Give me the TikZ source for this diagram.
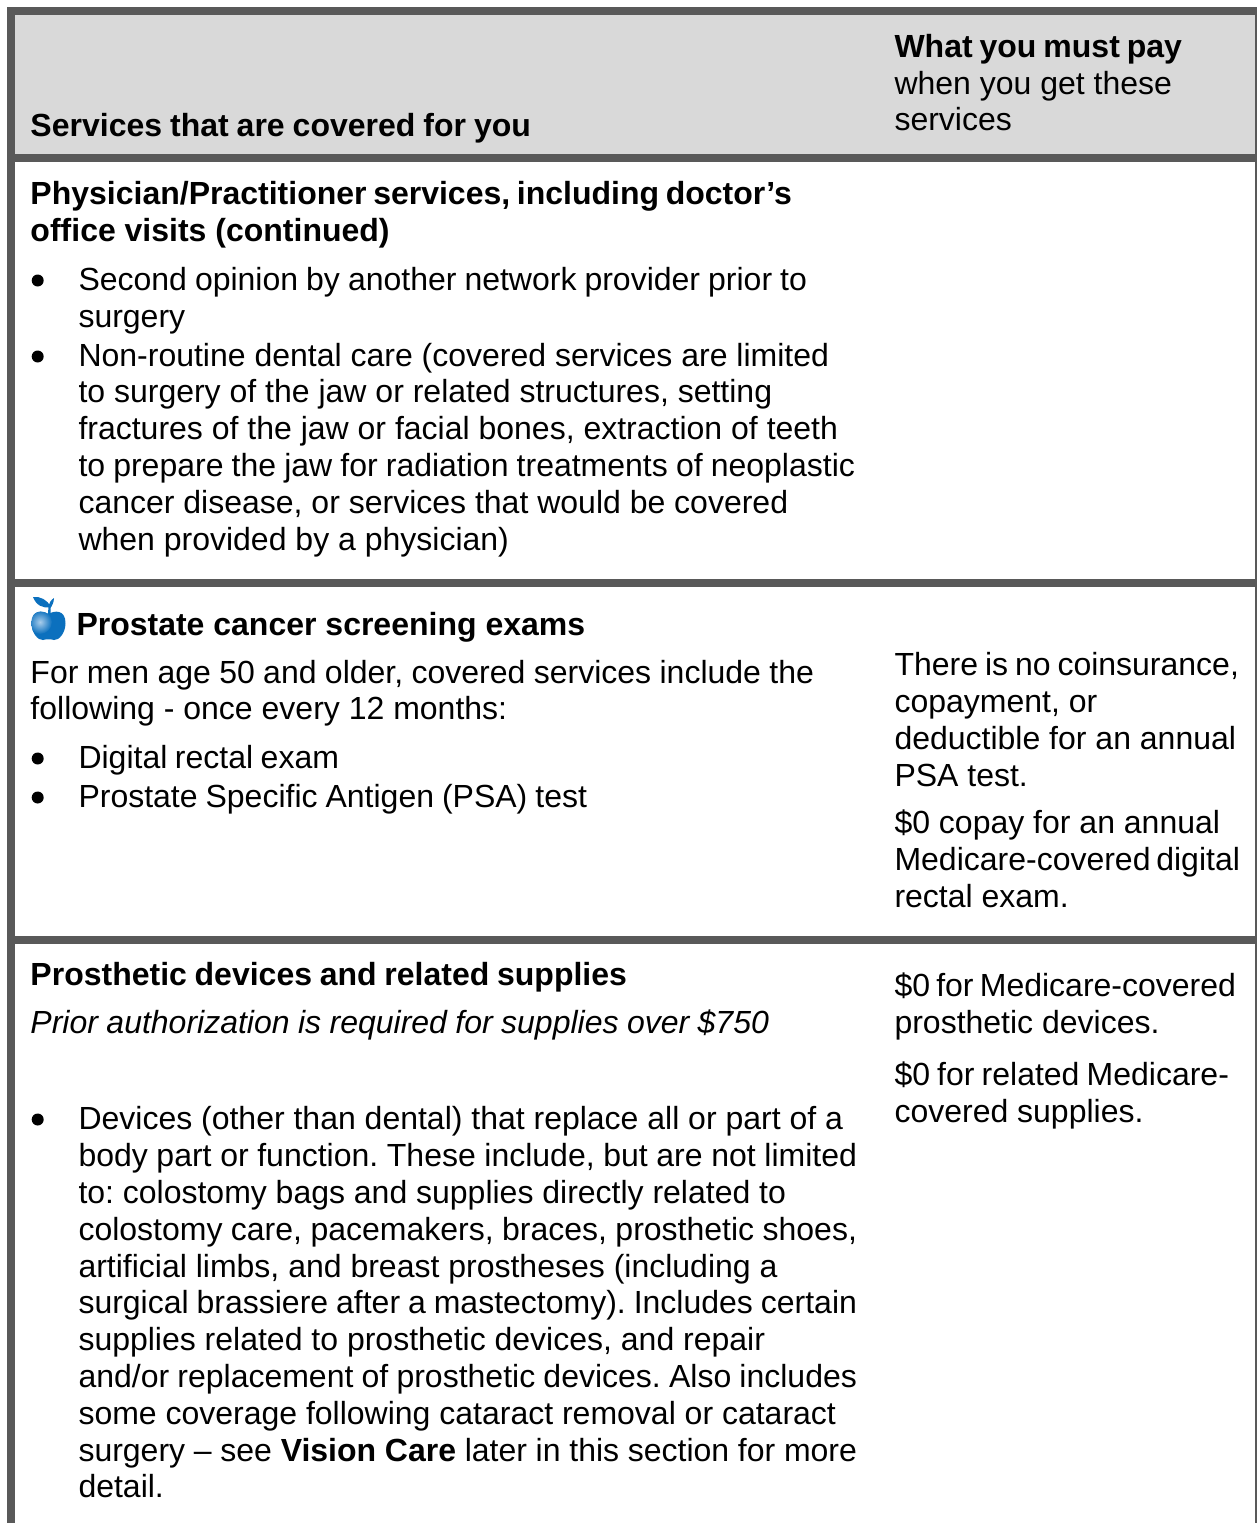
\documentclass[tikz,border=0pt]{standalone}
\usepackage{fontspec}
\setmainfont{Liberation Sans}
\newcounter{tlc}
\definecolor{barc}{HTML}{595959}
\definecolor{headc}{HTML}{D9D9D9}
\definecolor{applec}{HTML}{0B70BE}
\definecolor{applehi}{HTML}{A9CDEB}
\tikzset{x=1pt,y=-1pt,
  rule/.style={fill=barc,draw=none},
  leaf/.style={fill=applec,draw=none},
  dotmark/.style={circle,fill=black,draw=none,inner sep=0pt,minimum size=12pt},
  txt/.style={anchor=base west,inner sep=0pt,outer sep=0pt,font=\fontsize{32}{37}\selectfont\frenchspacing,text=black}}
% plain line
\newcommand{\tl}[3]{\stepcounter{tlc}\node[txt] (t\thetlc) at (#1+0.5,#2) {#3};}
% line fitted so that it ends at a given x, by its word spaces
\newcommand{\tf}[4]{\stepcounter{tlc}\node[txt] (t\thetlc) at (#1+0.5,#2)
  {\spaceskip=8.9pt plus 1fil minus 1fil\relax\hbox to \dimexpr #3pt-#1pt-0.5pt\relax{#4}};}
\newcommand{\bu}[1]{\stepcounter{tlc}\node[dotmark] (t\thetlc) at (37.7,#1-9.5) {};}
\begin{document}
\begin{tikzpicture}
\useasboundingbox (0,0) rectangle (1257,1523);
\fill[white] (0,0) rectangle (1257,1523);
% header
\fill[headc] (15,15) rectangle (1255,154);
% rules
\fill[rule] (7,7) rectangle (1257,15);
\fill[rule] (7,154) rectangle (1257,162);
\fill[rule] (7,579) rectangle (1257,587);
\fill[rule] (7,936) rectangle (1257,944);
\fill[rule] (7,7) rectangle (15,1523);
\fill[rule] (1255,7) rectangle (1257,1523);
% header text
\tf{30}{136}{531}{\bfseries Services that are covered for you}
\tf{894}{57}{1182}{\bfseries What you must pay}
\tl{894}{94}{when you get these}
\tl{894}{130}{services}
% physician
\tf{30}{204}{792}{\bfseries Physician/Practitioner services, including doctor’s}
\tl{30}{241}{\bfseries office visits (continued)}
\bu{290}
\tf{78}{290}{807}{Second opinion by another network provider prior to}
\tl{78}{327}{surgery}
\bu{366}
\tl{78}{366}{Non-routine dental care (covered services are limited}
\tl{78}{402}{to surgery of the jaw or related structures, setting}
\tl{78}{439}{fractures of the jaw or facial bones, extraction of teeth}
\tf{78}{476}{855}{to prepare the jaw for radiation treatments of neoplastic}
\tl{78}{513}{cancer disease, or services that would be covered}
\tl{78}{550}{when provided by a physician)}
% apple
\begin{scope}
\clip (48.5,614) .. controls (42,610) and (31.5,610) .. (31.5,623)
  .. controls (31.5,633) and (38,640.5) .. (43,640)
  .. controls (46,639) and (51,639) .. (54,640)
  .. controls (59,640.5) and (65.5,633) .. (65.5,623)
  .. controls (65.5,610) and (55,610) .. (48.5,614) -- cycle;
\fill[applec] (25,605) rectangle (72,645);
\shade[inner color=applehi,outer color=applec,draw=none] (40,622) circle (12);
\end{scope}
\fill[leaf] (33,597) .. controls (40,596) and (48,600) .. (50.5,607)
  .. controls (43,609) and (36,605) .. (33,597) -- cycle;
\fill[leaf] (48,614) -- (48.5,606) .. controls (49,603) and (51,600) .. (54,598)
  .. controls (54,602) and (52,606) .. (50.5,608) -- (50.5,614) -- cycle;
% prostate
\tl{76}{635}{\bfseries Prostate cancer screening exams}
\tf{30}{683}{814}{For men age 50 and older, covered services include the}
\tl{30}{719}{following - once every 12 months:}
\bu{768}
\tf{78}{768}{339}{Digital rectal exam}
\bu{807}
\tf{78}{807}{587}{Prostate Specific Antigen (PSA) test}
\tf{894}{675}{1239}{There is no coinsurance,}
\tl{894}{712}{copayment, or}
\tl{894}{749}{deductible for an annual}
\tl{894}{786}{PSA test.}
\tl{894}{833}{\$0 copay for an annual}
\tf{894}{870}{1240}{Medicare-covered digital}
\tl{894}{907}{rectal exam.}
% prosthetic
\tf{30}{985}{627}{\bfseries Prosthetic devices and related supplies}
\tf{30}{1033}{769}{\itshape Prior authorization is required for supplies over \$750}
\tf{894}{996}{1236}{\$0 for Medicare-covered}
\tl{894}{1033}{prosthetic devices.}
\tf{894}{1085}{1229}{\$0 for related Medicare-}
\tl{894}{1122}{covered supplies.}
\bu{1129}
\tf{78}{1129}{843}{Devices (other than dental) that replace all or part of a}
\tf{78}{1166}{857}{body part or function. These include, but are not limited}
\tf{78}{1203}{786}{to: colostomy bags and supplies directly related to}
\tf{78}{1240}{857}{colostomy care, pacemakers, braces, prosthetic shoes,}
\tl{78}{1277}{artificial limbs, and breast prostheses (including a}
\tf{78}{1313}{857}{surgical brassiere after a mastectomy). Includes certain}
\tl{78}{1350}{supplies related to prosthetic devices, and repair}
\tf{78}{1387}{857}{and/or replacement of prosthetic devices. Also includes}
\tf{78}{1424}{836}{some coverage following cataract removal or cataract}
\tf{78}{1461}{857}{surgery – see {\bfseries Vision Care} later in this section for more}
\tl{78}{1497}{detail.}
\end{tikzpicture}
\end{document}
